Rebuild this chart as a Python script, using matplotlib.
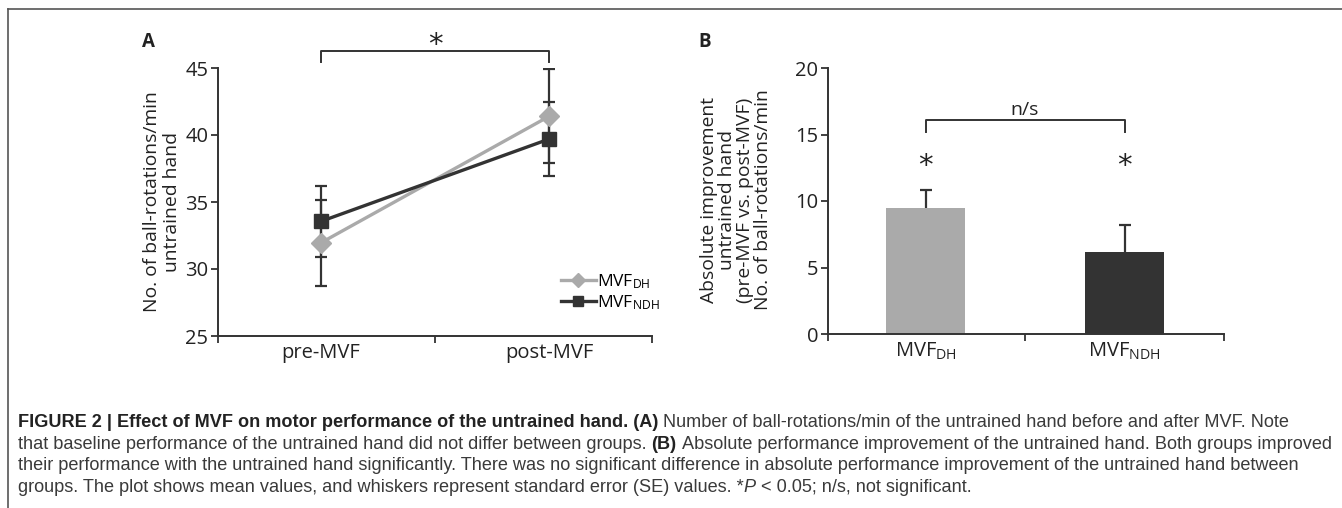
import matplotlib
matplotlib.use('Agg')
import matplotlib.pyplot as plt
from matplotlib.lines import Line2D
from matplotlib.transforms import IdentityTransform

plt.rcParams['font.family'] = ['Open Sans', 'DejaVu Sans']
plt.rcParams['mathtext.default'] = 'regular'

# panel A data: ball-rotations/min of untrained hand
phases = ['pre-MVF', 'post-MVF']
dh_mean = [31.95, 41.4]
dh_se = [3.2, 3.5]
ndh_mean = [33.55, 39.7]
ndh_se = [2.65, 2.75]

# panel B data: absolute improvement
groups = [r'$\mathregular{MVF_{DH}}$', r'$\mathregular{MVF_{NDH}}$']
improve = [9.47, 6.2]
improve_se = [1.37, 2.0]

light = '#aaaaaa'
dark = '#333333'
axcol = '#333333'
tick_size = 14.5

W, H = 1342, 508
fig = plt.figure(figsize=(W / 100, H / 100), dpi=100)

# outer frame (top and left edge)
fig.add_artist(Line2D([8 / W, 1], [1 - 9 / H, 1 - 9 / H], color='#555555', lw=1.2, transform=fig.transFigure))
fig.add_artist(Line2D([8 / W, 8 / W], [0, 1 - 9 / H], color='#555555', lw=1.2, transform=fig.transFigure))


def style_axes(ax):
    for s in ['top', 'right']:
        ax.spines[s].set_visible(False)
    for s in ['left', 'bottom']:
        ax.spines[s].set_color(axcol)
        ax.spines[s].set_linewidth(1.4)
    ax.tick_params(which='major', direction='out', length=5, width=1.3, color=axcol,
                   labelsize=tick_size, labelcolor='#222222', pad=2)
    ax.tick_params(axis='x', which='minor', length=0, labelsize=tick_size, labelcolor='#222222', pad=5)


# ---------------- panel A ----------------
axA = fig.add_axes([218 / W, (H - 336) / H, (652 - 218) / W, (336 - 68) / H])
x = [0, 1]
axA.errorbar(x, dh_mean, yerr=dh_se, fmt='none', ecolor=dark, elinewidth=1.6, capsize=4, capthick=1.6, zorder=2)
axA.errorbar(x, ndh_mean, yerr=ndh_se, fmt='none', ecolor=dark, elinewidth=1.6, capsize=4, capthick=1.6, zorder=2)
axA.plot(x, dh_mean, color=light, lw=2.4, marker='D', ms=10, mec=light, mfc=light, zorder=3,
         label=r'$\mathregular{MVF_{DH}}$')
axA.plot(x, ndh_mean, color=dark, lw=2.4, marker='s', ms=9.5, mec=dark, mfc=dark, zorder=4,
         label=r'$\mathregular{MVF_{NDH}}$')
axA.set_xlim(-0.45, 1.45)
axA.set_ylim(25, 45)
axA.set_yticks([25, 30, 35, 40, 45])
axA.set_xticks([-0.45, 0.5, 1.45])
axA.set_xticklabels([])
axA.set_xticks(x, minor=True)
axA.set_xticklabels(phases, minor=True)
style_axes(axA)

# significance bracket
axA.plot([0, 0, 1, 1], [45.47, 46.3, 46.3, 45.47], color=dark, lw=1.4, clip_on=False)
axA.text(0.5, 46.75, '*', ha='center', va='center', fontsize=21, family='DejaVu Sans', color='#222222')

axA.legend(loc='center left', bbox_to_anchor=(561 / W, 1 - 292 / H), bbox_transform=fig.transFigure,
           frameon=False, fontsize=12.5, handlelength=2.0, handletextpad=0.05, labelspacing=0.1,
           borderpad=0, borderaxespad=0, markerscale=0.75)

fig.text(162 / W, 1 - 202 / H, 'No. of ball-rotations/min\nuntrained hand', rotation=90,
         ha='center', va='center', fontsize=13.9, linespacing=1.1, color='#222222')
fig.text(148 / W, 1 - 42 / H, 'A', ha='center', va='center', fontsize=13.5, fontweight='bold', color='#222222')

# ---------------- panel B ----------------
axB = fig.add_axes([828 / W, (H - 334) / H, (1224 - 828) / W, (334 - 68) / H])
axB.bar([0, 1], improve, width=0.4, color=[light, dark], zorder=2)
# one-sided whiskers (upper only)
tops = [m + s for m, s in zip(improve, improve_se)]
axB.vlines([0, 1], improve, tops, color=dark, lw=1.6, zorder=3)
axB.plot([0, 1], tops, ls='none', marker='_', ms=9, mew=1.6, color=dark, zorder=3)
axB.set_xlim(-0.49, 1.5)
axB.set_ylim(0, 20)
axB.set_yticks([0, 5, 10, 15, 20])
axB.set_xticks([-0.49, 0.5, 1.5])
axB.set_xticklabels([])
axB.set_xticks([0, 1], minor=True)
axB.set_xticklabels(groups, minor=True)
style_axes(axB)

for i in range(len(improve)):
    axB.text(i, 12.6, '*', ha='center', va='center', fontsize=21, family='DejaVu Sans', color='#222222')
axB.plot([0, 0, 1, 1], [15.2, 16.1, 16.1, 15.2], color=dark, lw=1.4, clip_on=False)
axB.text(0.5, 16.85, 'n/s', ha='center', va='center', fontsize=14, color='#222222')

fig.text(736 / W, 1 - 200 / H,
         'Absolute improvement\nuntrained hand\n(pre-MVF vs. post-MVF)\nNo. of ball-rotations/min',
         rotation=90, ha='center', va='center', fontsize=13.9, linespacing=1.0, color='#222222')
fig.text(705 / W, 1 - 42 / H, 'B', ha='center', va='center', fontsize=13.5, fontweight='bold', color='#222222')

# ---------------- caption ----------------
cap_font = ['Liberation Sans Narrow', 'Liberation Sans', 'DejaVu Sans']
cap_size = 13.1
renderer = fig.canvas.get_renderer()


def text_width(s, **kw):
    t = fig.text(0, 0, s, transform=IdentityTransform(), fontsize=cap_size, family=cap_font, **kw)
    w = t.get_window_extent(renderer).width
    t.remove()
    return w


space = text_width('n n') - text_width('nn')


def rich_line(ypix, parts):
    xpos = 18
    for s, weight, style, gap in parts:
        xpos += space if gap else 0
        t = fig.text(xpos, H - ypix, s, transform=IdentityTransform(), fontsize=cap_size,
                     family=cap_font, fontweight=weight, fontstyle=style,
                     color='#222222' if weight == 'bold' else '#3a3a3a', va='baseline')
        xpos = t.get_window_extent(renderer).x1


rich_line(427, [('FIGURE 2 | Effect of MVF on motor performance of the untrained hand. (A)', 'bold', 'normal', False),
                ('Number of ball-rotations/min of the untrained hand before and after MVF. Note', 'normal', 'normal', True)])
rich_line(449, [('that baseline performance of the untrained hand did not differ between groups.', 'normal', 'normal', False),
                ('(B)', 'bold', 'normal', True),
                ('Absolute performance improvement of the untrained hand. Both groups improved', 'normal', 'normal', True)])
rich_line(470, [('their performance with the untrained hand significantly. There was no significant difference in '
                 'absolute performance improvement of the untrained hand between', 'normal', 'normal', False)])
rich_line(492, [('groups. The plot shows mean values, and whiskers represent standard error (SE) values. *', 'normal', 'normal', False),
                ('P', 'normal', 'italic', False),
                ('< 0.05; n/s, not significant.', 'normal', 'normal', True)])

fig.savefig('out.png', dpi=100)
